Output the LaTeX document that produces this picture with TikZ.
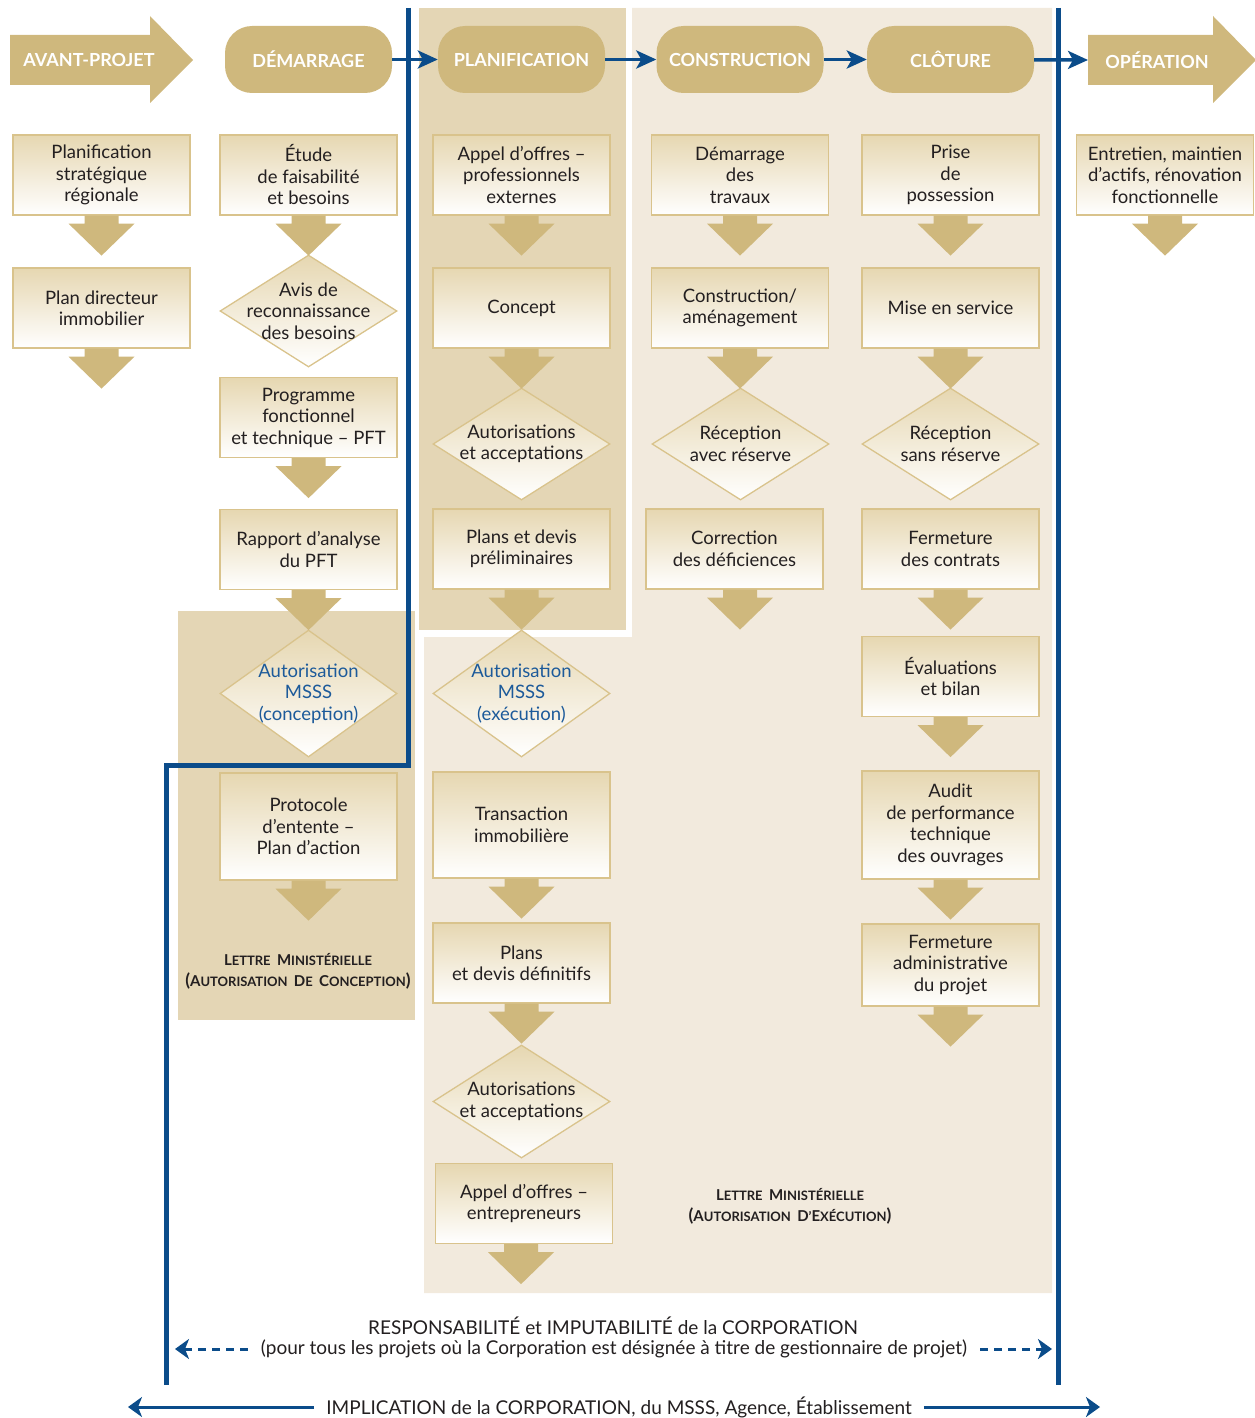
\documentclass[tikz,border=0pt]{standalone}
\usepackage{fontspec}
\setmainfont{Lato}
\usepackage{tikz}
\usetikzlibrary{shapes.geometric,arrows.meta}

\definecolor{goldtan}{HTML}{CFB87D}
\definecolor{darkzone}{HTML}{E4D6B5}
\definecolor{lightzone}{HTML}{F2EADD}
\definecolor{boxtop}{HTML}{E6D7B1}
\definecolor{boxline}{HTML}{D9C38C}
\definecolor{corpblue}{HTML}{0B4C8A}
\definecolor{msssblue}{HTML}{1C5A9A}
\definecolor{inkblack}{HTML}{231F20}

\newcommand{\boxfont}{\fontsize{18.5}{21.5}\selectfont}
\newcommand{\phasefont}{\fontsize{18}{20}\selectfont\bfseries}
\newcommand{\smc}[2]{{\fontsize{15}{21}\selectfont#1}{\fontsize{13}{21}\selectfont#2}}
\newcommand{\bigpar}[1]{{\fontsize{17.5}{21}\selectfont#1}}
% block arrow under a box
\newcommand{\dnarrow}[2][0]{\fill[goldtan] ([xshift=#1pt-17pt]#2.south) -- ++(0,8) -- ++(-16,0) -- ++(33,32) -- ++(33,-32) -- ++(-16,0) -- ++(0,-8) -- cycle;}

\tikzset{
	box/.style={draw=boxline,line width=1.3pt,top color=boxtop,bottom color=white,minimum width=177pt,minimum height=80pt,align=center,font=\boxfont,text=inkblack},
	dmd/.style={diamond,draw=boxline,line width=1.3pt,top color=boxtop,bottom color=white,minimum width=177pt,minimum height=112pt,inner sep=0pt},
	dtxt/.style={align=center,font=\boxfont,text=inkblack},
	phase/.style={fill=goldtan,rounded corners=27pt,minimum width=167pt,minimum height=67pt,text=white,font=\phasefont},
	hdr/.style={text=white,font=\phasefont},
	flow/.style={draw=corpblue,line width=3.5pt,-{Stealth[length=20pt,width=18pt,inset=5pt]}},
	dashflow/.style={draw=corpblue,line width=3pt,dash pattern=on 8pt off 6pt,-{Stealth[length=14pt,width=20pt,inset=4pt]}},
	solidflow/.style={draw=corpblue,line width=3pt,-{Stealth[length=14pt,width=20pt,inset=4pt]}},
	bottomtxt/.style={font=\fontsize{19}{21}\selectfont,text=inkblack},
	lettre/.style={align=center,font=\fontsize{13}{21}\selectfont\bfseries,text=inkblack}
}

\begin{document}
\begin{tikzpicture}[x=1pt,y=-1pt]
	\useasboundingbox (0,0) rectangle (1254,1418);
	% zones
	\fill[lightzone] (632,8) -- (1052,8) -- (1052,1293) -- (424,1293) -- (424,637) -- (632,637) -- cycle;
	\fill[darkzone] (419,8) rectangle (626,630);
	\fill[darkzone] (178,611) rectangle (415,1020);
	\draw[corpblue,line width=5pt] (408,8) -- (408,765) -- (166,765) -- (166,1385);
	\draw[corpblue,line width=5pt] (1058,8) -- (1058,1385);

	% phases
	\fill[goldtan] (10,35) -- (150,35) -- (150,16) -- (193,60) -- (150,103) -- (150,85) -- (10,85) -- cycle;
	\fill[goldtan] (1088,35) -- (1213,35) -- (1213,16) -- (1256,60) -- (1213,103) -- (1213,85) -- (1088,85) -- cycle;
	\node[hdr] (avant) at (89,60) {AVANT-PROJET};
	\node[hdr] (oper) at (1157,60) {OPÉRATION};
	\coordinate (operin) at (1088,60);
	\node[phase] (demar) at (308.5,59.5) {DÉMARRAGE};
	\node[phase] (planif) at (521.5,59.5) {PLANIFICATION};
	\node[phase] (constr) at (740,59.5) {CONSTRUCTION};
	\node[phase] (clot) at (950.5,59.5) {CLÔTURE};
	\draw[flow] (demar) -- (planif);
	\draw[flow] (planif) -- (constr);
	\draw[flow] (constr) -- (clot);
	\draw[flow] (clot) -- (operin);

	% avant-projet
	\node[box] (b11) at (101.5,175) {Planification\\stratégique\\régionale};
	\node[box] (b12) at (101.5,308) {Plan directeur\\immobilier};

	% demarrage
	\node[box] (b21) at (308.5,175) {Étude\\de faisabilité\\et besoins};
	\node[dmd,label={[dtxt]center:{Avis de\\reconnaissance\\des besoins}}] (d22) at (308.5,311) {};
	\node[box] (b23) at (308.5,417.5) {Programme\\fonctionnel\\et technique – PFT};
	\node[box] (b24) at (308.5,549.5) {Rapport d’analyse\\du PFT};
	\node[dmd,minimum height=127pt,label={[dtxt,text=msssblue]center:{Autorisation\\MSSS\\(conception)}}] (d25) at (308.5,693.5) {};
	\node[box,minimum height=107pt] (b26) at (308.5,826.5) {Protocole\\d’entente –\\Plan d’action};
	\node[lettre] (lettre1) at (298,971.5) {\smc{L}{ETTRE}\ \ \smc{M}{INISTÉRIELLE}\\\bigpar{(}\smc{A}{UTORISATION}\ \ \smc{D}{E}\ \ \smc{C}{ONCEPTION}\bigpar{)}};

	% planification
	\node[box] (b31) at (521.5,175) {Appel d’offres –\\professionnels\\externes};
	\node[box] (b32) at (521.5,308) {Concept};
	\node[dmd,label={[dtxt]center:{Autorisations\\et acceptations}}] (d33) at (521.5,444) {};
	\node[box] (b34) at (521.5,549) {Plans et devis\\préliminaires};
	\node[dmd,minimum height=127pt,label={[dtxt,text=msssblue]center:{Autorisation\\MSSS\\(exécution)}}] (d35) at (521.5,693.5) {};
	\node[box,minimum height=106pt] (b36) at (521.5,825) {Transaction\\immobilière};
	\node[box] (b37) at (521.5,963) {Plans\\et devis définitifs};
	\node[dmd,minimum height=113pt,label={[dtxt]center:{Autorisations\\et acceptations}}] (d38) at (521.5,1101.5) {};
	\node[box] (b39) at (524,1203.5) {Appel d’offres –\\entrepreneurs};

	% construction
	\node[box] (b41) at (740,175) {Démarrage\\des\\travaux};
	\node[box] (b42) at (740,308) {Construction/\\aménagement};
	\node[dmd,label={[dtxt]center:{Réception\\avec réserve}}] (d43) at (740.5,444) {};
	\node[box] (b44) at (734.5,549) {Correction\\des déficiences};
	\node[lettre] (lettre2) at (790,1206) {\smc{L}{ETTRE}\ \ \smc{M}{INISTÉRIELLE}\\\bigpar{(}\smc{A}{UTORISATION}\ \ \smc{D}{’}\smc{E}{XÉCUTION}\bigpar{)}};

	% cloture
	\node[box] (b51) at (950.5,175) {Prise\\de\\possession};
	\node[box] (b52) at (950.5,308) {Mise en service};
	\node[dmd,label={[dtxt]center:{Réception\\sans réserve}}] (d53) at (950.5,444) {};
	\node[box] (b54) at (950.5,549) {Fermeture\\des contrats};
	\node[box] (b55) at (950.5,676.5) {Évaluations\\et bilan};
	\node[box,minimum height=108pt] (b56) at (950.5,825) {Audit\\de performance\\technique\\des ouvrages};
	\node[box,minimum height=82pt] (b57) at (950.5,965) {Fermeture\\administrative\\du projet};

	% operation
	\node[box] (b61) at (1165,175) {Entretien, maintien\\d’actifs, rénovation\\fonctionnelle};

	\dnarrow{b11}
	\dnarrow{b12}
	\dnarrow{b21}
	\dnarrow{b23}
	\dnarrow{b24}
	\dnarrow{b26}
	\dnarrow{b31}
	\dnarrow{b32}
	\dnarrow{b34}
	\dnarrow{b36}
	\dnarrow{b37}
	\dnarrow[-3]{b39}
	\dnarrow{b41}
	\dnarrow{b42}
	\dnarrow[5.5]{b44}
	\dnarrow{b51}
	\dnarrow{b52}
	\dnarrow{b54}
	\dnarrow{b55}
	\dnarrow{b56}
	\dnarrow{b57}
	\dnarrow{b61}

	% responsabilite / implication
	\node[bottomtxt] (resp1) at (613,1326) {RESPONSABILITÉ et IMPUTABILITÉ de la CORPORATION};
	\node[bottomtxt,inner xsep=13pt] (resp2) at (614,1349) {(pour tous les projets où la Corporation est désignée à titre de gestionnaire de projet)};
	\coordinate (respL) at (175,1349);
	\coordinate (respR) at (1052,1349);
	\draw[dashflow] (resp2) -- (respL);
	\draw[dashflow] (resp2) -- (respR);
	\node[bottomtxt,inner xsep=12pt] (impl) at (619,1407) {IMPLICATION de la CORPORATION, du MSSS, Agence, Établissement};
	\coordinate (implL) at (128,1407);
	\coordinate (implR) at (1100,1407);
	\draw[solidflow] (impl) -- (implL);
	\draw[solidflow] (impl) -- (implR);
\end{tikzpicture}
\end{document}
